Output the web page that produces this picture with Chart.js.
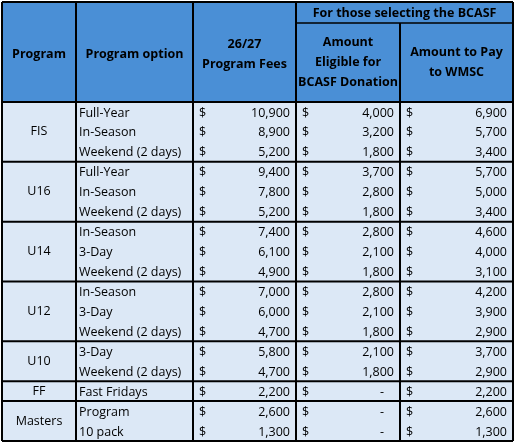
<!DOCTYPE html><html><head><meta charset="utf-8">
<script src="https://cdn.jsdelivr.net/npm/chart.js@4"></script>
<style>html,body{margin:0;background:#fff}canvas{display:block}</style></head><body>
<canvas id="c" width="516" height="446"></canvas>
<script>
const groups = ["FIS","U16","U14","U12","U10","FF","Masters"];
const groupSizes = [3,3,3,3,2,1,2];
const options = ["Full-Year","In-Season","Weekend (2 days)","Full-Year","In-Season","Weekend (2 days)","In-Season","3-Day","Weekend (2 days)","In-Season","3-Day","Weekend (2 days)","3-Day","Weekend (2 days)","Fast Fridays","Program","10 pack"];
const fees = [10900,8900,5200,9400,7800,5200,7400,6100,4900,7000,6000,4700,5800,4700,2200,2600,1300];
const eligible = [4000,3200,1800,3700,2800,1800,2800,2100,1800,2800,2100,1800,2100,1800,null,null,null];
const toPay = [6900,5700,3400,5700,5000,3400,4600,4000,3100,4200,3900,2900,3700,2900,2200,2600,1300];
const headers = ["Program","Program option","26/27\nProgram Fees","Amount\nEligible for\nBCASF Donation","Amount to Pay\nto WMSC"];
const topHeader = "For those selecting the BCASF";
const colX = [2,76,193,296,400,513];
const HEAD_BLUE = "#4a8fd6", BODY = "#dce8f6";

const fmt = v => v.toLocaleString("en-US");
const tablePlugin = {
  id: "table",
  afterDraw(chart) {
    const ctx = chart.ctx, y = chart.scales.y, ca = chart.chartArea;
    const half = (y.getPixelForValue(1) - y.getPixelForValue(0)) / 2;
    const top = ca.top, bot = ca.bottom, hTop = 2;
    ctx.save();
    // header
    ctx.fillStyle = HEAD_BLUE; ctx.fillRect(colX[0], hTop, colX[5]-colX[0], top-hTop);
    ctx.fillStyle = BODY; ctx.fillRect(colX[0], top, colX[5]-colX[0], bot-top);
    ctx.fillStyle = "#000"; ctx.textBaseline = "middle";
    ctx.font = "bold 12.5px 'Open Sans'";
    const midH = (top + hTop) / 2 + 10;
    headers.forEach((h, i) => {
      const lines = h.split("\n"); const cx = (colX[i]+colX[i+1])/2;
      const cy = i >= 3 ? (23 + top) / 2 : midH - 8;
      ctx.textAlign = "center";
      lines.forEach((l, k) => ctx.fillText(l, cx, cy + (k - (lines.length-1)/2) * 20));
    });
    ctx.fillText(topHeader, (colX[3]+colX[5])/2, 13);
    // body
    ctx.font = "12.5px 'Open Sans'";
    options.forEach((o, r) => {
      const py = y.getPixelForValue(r) + 1;
      ctx.textAlign = "left"; ctx.fillText(o, colX[1]+3, py);
      [fees, eligible, toPay].forEach((arr, j) => {
        const c = 2 + j; ctx.textAlign = "left"; ctx.fillText("$", colX[c]+6, py);
        ctx.textAlign = "right";
        if (arr[r] == null) ctx.fillText("-", colX[c+1]-16, py);
        else ctx.fillText(fmt(arr[r]), colX[c+1]-6, py);
      });
    });
    // lines
    ctx.strokeStyle = "#000";
    const line = (x1,y1,x2,y2,w) => {ctx.lineWidth=w;ctx.beginPath();ctx.moveTo(x1,y1);ctx.lineTo(x2,y2);ctx.stroke();};
    let r = 0;
    groups.forEach((g, gi) => {
      const y0 = y.getPixelForValue(r) - half, y1 = y.getPixelForValue(r + groupSizes[gi] - 1) + half;
      ctx.textAlign = "center";
      ctx.fillText(g, (colX[0]+colX[1])/2, (y0+y1)/2);
      line(colX[0], y1, colX[5], y1, 2);
      r += groupSizes[gi];
    });
    line(colX[0], top, colX[5], top, 2);
    line(colX[3], 23, colX[5], 23, 1.5);
    colX.forEach((x, i) => line(x, (i===4?23:hTop), x, bot, 2));
    line(colX[0], hTop, colX[5], hTop, 2);
    ctx.restore();
  }
};
new Chart(document.getElementById("c"), {
  type: "bar",
  data: { labels: options.map((o,i)=>i), datasets: [{ data: fees, backgroundColor: "rgba(0,0,0,0)" }] },
  options: {
    indexAxis: "y", responsive: false, animation: false,
    layout: { padding: { top: 102, bottom: 5, left: 2, right: 3 } },
    plugins: { legend: { display: false }, tooltip: { enabled: false } },
    scales: { x: { display: false }, y: { type: "category", display: false, offset: true } }
  },
  plugins: [tablePlugin]
});
</script></body></html>
